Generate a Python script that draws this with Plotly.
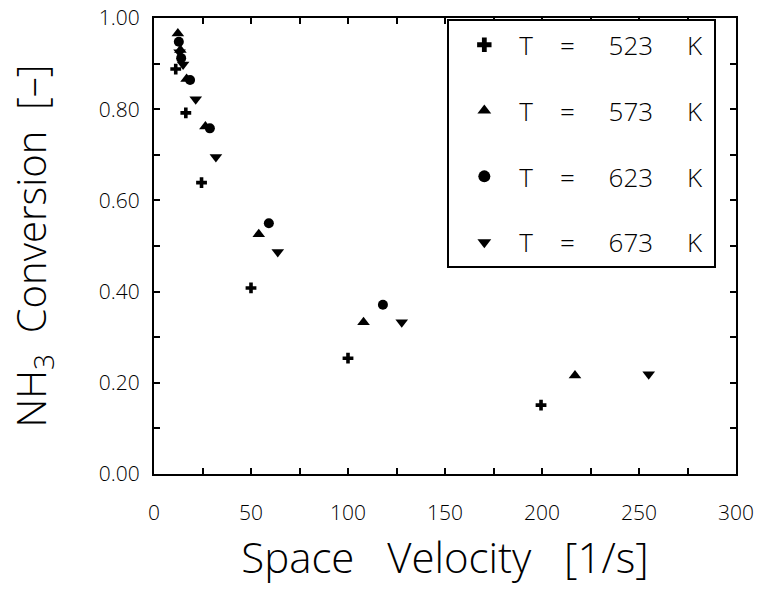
import plotly.graph_objects as go

# Data
sv_523 = [11.2, 16.4, 24.5, 50.0, 100.0, 199.5]
conv_523 = [0.888, 0.792, 0.639, 0.408, 0.254, 0.151]

sv_573 = [12.3, 13.6, 16.8, 26.5, 54.0, 108.0, 217.0]
conv_573 = [0.966, 0.930, 0.866, 0.762, 0.526, 0.333, 0.216]

sv_623 = [12.8, 14.0, 18.6, 28.8, 59.2, 118.0]
conv_623 = [0.948, 0.912, 0.864, 0.758, 0.550, 0.371]

sv_673 = [13.2, 15.0, 21.5, 31.9, 63.8, 127.7, 255.0]
conv_673 = [0.925, 0.898, 0.822, 0.695, 0.487, 0.333, 0.219]

temps = ["523", "573", "623", "673"]
x_tickvals = [0, 25, 50, 75, 100, 125, 150, 175, 200, 225, 250, 275, 300]
x_ticktext = ["0", "", "50", "", "100", "", "150", "", "200", "", "250", "", "300"]
y_tickvals = [0.0, 0.1, 0.2, 0.3, 0.4, 0.5, 0.6, 0.7, 0.8, 0.9, 1.0]
y_ticktext = ["0.00", "", "0.20", "", "0.40", "", "0.60", "", "0.80", "", "1.00"]

NB = "\u00a0"
labels = [f"T{NB*4}={NB*5}{t}{NB*5}K{NB}" for t in temps]
symbols = ["cross", "triangle-up", "circle", "triangle-down"]
sizes = [9, 11, 10, 11]

FONT = "Open Sans"
W = 300

fig = go.Figure()
series = [(sv_523, conv_523), (sv_573, conv_573), (sv_623, conv_623), (sv_673, conv_673)]
for i, (xs, ys) in enumerate(series):
    fig.add_trace(go.Scatter(
        x=xs, y=ys, mode="markers", name=labels[i], legendgroup=f"g{i}",
        marker=dict(symbol=symbols[i], size=sizes[i], color="black",
                    line=dict(width=0)),
    ))

axis_common = dict(
    showgrid=False, zeroline=False, showline=True, linecolor="black", linewidth=2,
    mirror="allticks", ticks="inside", ticklen=6, tickwidth=2, tickcolor="black",
    tickfont=dict(family=FONT, size=21, color="black", weight=W),
    automargin=False,
)

fig.update_xaxes(
    range=[0, 300], tickmode="array", tickvals=x_tickvals, ticktext=x_ticktext,
    ticklabelstandoff=19,
    title=dict(text=f"Space{NB*3}Velocity{NB*3}[1/s]",
               font=dict(family=FONT, size=42, color="black", weight=W), standoff=18),
    **axis_common,
)
fig.update_yaxes(
    range=[0, 1.0], tickmode="array", tickvals=y_tickvals, ticktext=y_ticktext,
    ticklabelstandoff=8,
    title=dict(text=f"NH<sub>3</sub>{NB*2}Conversion{NB*2}[\u2013]",
               font=dict(family=FONT, size=40, color="black", weight=W), standoff=40),
    **axis_common,
)

fig.update_layout(
    width=763, height=595,
    margin=dict(l=154, r=27, t=18, b=121),
    paper_bgcolor="white", plot_bgcolor="white",
    showlegend=True,
    legend=dict(
        x=0.504, y=0.997, xanchor="left", yanchor="top",
        bgcolor="white", bordercolor="black", borderwidth=2,
        font=dict(family=FONT, size=26, color="black", weight=W),
        tracegroupgap=29, itemsizing="constant", itemwidth=60,
    ),
)

fig.write_html("out.html")
